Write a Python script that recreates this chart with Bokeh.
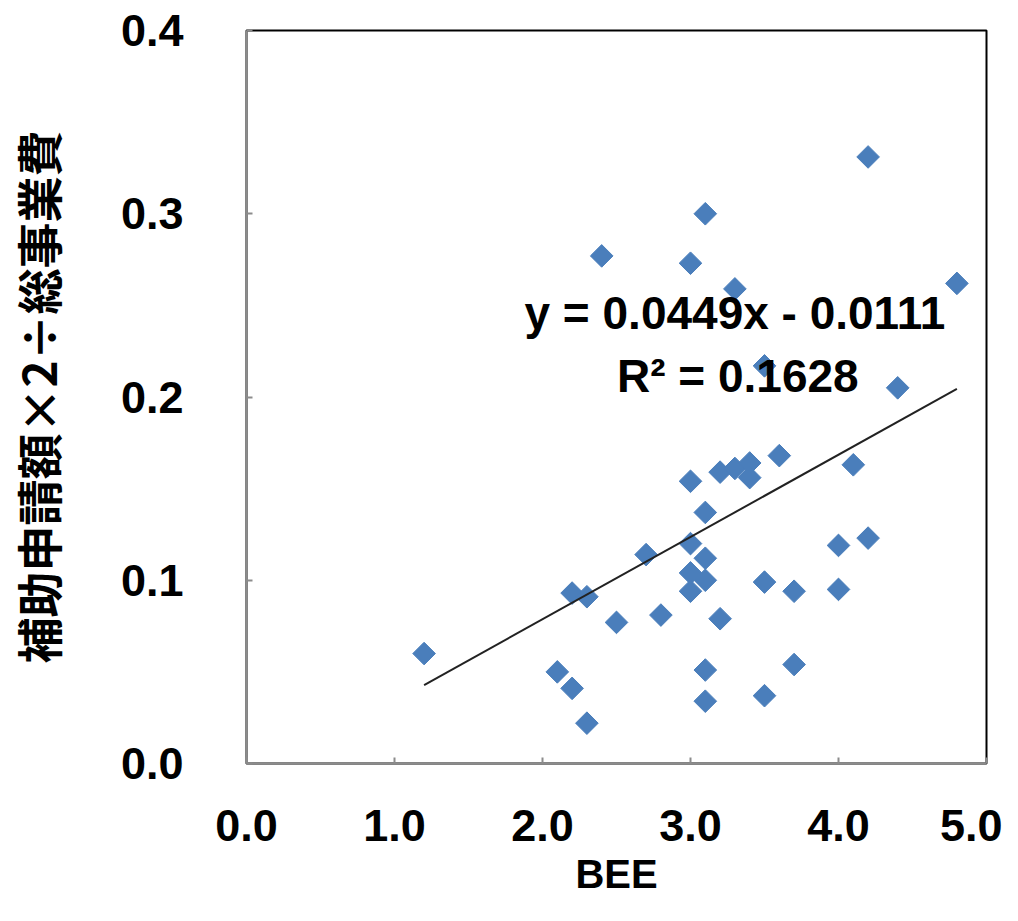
import numpy as np
from bokeh.plotting import figure
from bokeh.models import Label, FixedTicker, PrintfTickFormatter, Range1d, ColumnDataSource
from bokeh.embed import file_html
from bokeh.resources import INLINE

# data
bee = [1.2, 2.1, 2.2, 2.3, 2.2, 2.3, 2.5, 2.7, 2.8, 3.0,
       3.1, 3.0, 3.1, 3.0, 3.1, 3.0, 3.2, 3.1, 3.1, 3.2,
       3.3, 3.4, 3.4, 3.6, 3.5, 3.7, 3.5, 3.7, 4.1, 4.0,
       4.2, 4.0, 4.2, 3.1, 2.4, 3.0, 3.3, 4.8, 3.5, 4.4]
ratio = [0.060, 0.050, 0.041, 0.022, 0.093, 0.091, 0.077, 0.114, 0.081, 0.154,
         0.137, 0.120, 0.112, 0.104, 0.100, 0.094, 0.079, 0.051, 0.034, 0.159,
         0.161, 0.164, 0.156, 0.168, 0.099, 0.094, 0.037, 0.054, 0.163, 0.119,
         0.123, 0.095, 0.331, 0.300, 0.277, 0.273, 0.259, 0.262, 0.217, 0.205]
slope = 0.0449
intercept = -0.0111
eq_text = "y = 0.0449x - 0.0111"
r2_text = "R\u00b2 = 0.1628"
x_ticks = [0, 1, 2, 3, 4, 5]
y_ticks = [0.0, 0.1, 0.2, 0.3, 0.4]
x_title = "BEE"
y_title = "補助申請額×2÷総事業費"

FONT = "Liberation Sans"

p = figure(output_backend="svg", toolbar_location=None,
           width=1002, height=913,
           min_border_left=246, min_border_top=30, min_border_right=16, min_border_bottom=150,
           x_range=Range1d(0, 5), y_range=Range1d(0, 0.4))
p.grid.visible = False
p.outline_line_color = "black"
p.outline_line_width = 2
p.background_fill_color = "white"
p.border_fill_color = "white"

src = ColumnDataSource(dict(x=bee, y=ratio))
p.scatter("x", "y", source=src, marker="square", angle=np.pi / 4, size=16,
          fill_color="#4A7EBB", line_color="#4A7EBB")

xs = np.array([min(bee), max(bee)])
p.line(xs, slope * xs + intercept, line_color="#222222", line_width=2)

p.add_layout(Label(x=3.30, y=0.2456, text=eq_text, text_align="center", text_baseline="middle",
                   text_font=FONT, text_font_style="bold", text_font_size="46px", text_color="black"))
p.add_layout(Label(x=3.32, y=0.2117, text=r2_text, text_align="center", text_baseline="middle",
                   text_font=FONT, text_font_style="bold", text_font_size="46px", text_color="black"))

for ax in (p.xaxis[0], p.yaxis[0]):
    ax.axis_line_color = "#8c8c8c"
    ax.axis_line_width = 2
    ax.major_tick_line_color = "#8c8c8c"
    ax.major_tick_line_width = 2
    ax.major_tick_in = 6
    ax.major_tick_out = 0
    ax.minor_tick_line_color = None
    ax.major_label_text_font = FONT
    ax.major_label_text_font_style = "bold"
    ax.major_label_text_font_size = "45px"
    ax.major_label_text_color = "black"
    ax.axis_label_text_color = "black"
    ax.formatter = PrintfTickFormatter(format="%.1f")

p.xaxis[0].ticker = FixedTicker(ticks=x_ticks)
p.yaxis[0].ticker = FixedTicker(ticks=y_ticks)
p.xaxis[0].major_label_standoff = 46
p.yaxis[0].major_label_standoff = 63

p.xaxis[0].axis_label = x_title
p.xaxis[0].axis_label_text_font = FONT
p.xaxis[0].axis_label_text_font_style = "bold"
p.xaxis[0].axis_label_text_font_size = "40px"
p.xaxis[0].axis_label_standoff = 8

p.yaxis[0].axis_label = y_title
p.yaxis[0].axis_label_text_font = "Noto Sans CJK JP"
p.yaxis[0].axis_label_text_font_style = "bold"
p.yaxis[0].axis_label_text_font_size = "46px"
p.yaxis[0].axis_label_standoff = 48

open("out.html", "w").write(file_html(p, INLINE))
